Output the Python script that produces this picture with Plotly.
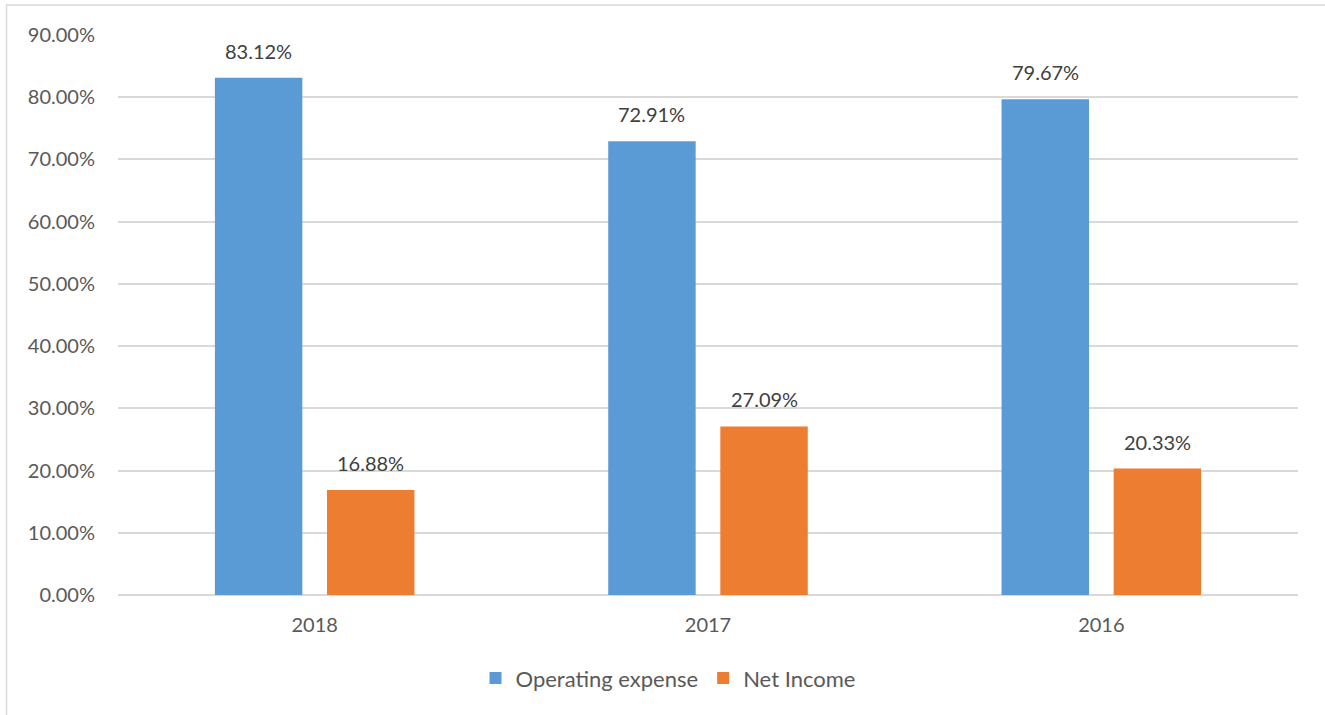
import plotly.graph_objects as go

years = ["2018", "2017", "2016"]
operating_expense = [83.12, 72.91, 79.67]
net_income = [16.88, 27.09, 20.33]
tick_vals = [0, 10, 20, 30, 40, 50, 60, 70, 80, 90]
tick_text = [f"{v:.2f}%" for v in tick_vals]

FONT = "Lato, Open Sans, sans-serif"
W, H = 1325, 715
L, R, T, B = 118, 27, 35, 120
pw, ph = W - L - R, H - T - B

BARGAP = 0.43
GROUPGAP = 0.22
# pixel offset of each bar center from category center (derived from layout params)
cat_w = pw / len(years)
slot = cat_w * (1 - BARGAP) / 2
offsets = [-slot / 2, slot / 2]

fig = go.Figure()
series = [("Operating expense", operating_expense, "#5b9bd5"),
          ("Net Income", net_income, "#ed7d31")]
for (name, vals, col), off in zip(series, offsets):
    fig.add_trace(go.Bar(
        name=name, x=years, y=vals,
        marker=dict(color=col, line=dict(width=0)),
    ))
    for i, v in enumerate(vals):
        fig.add_annotation(x=i, y=v, xref="x", yref="y", text=f"{v:.2f}%",
                           showarrow=False, xshift=off, yshift=13, yanchor="bottom",
                           font=dict(size=20, color="#404040", family=FONT))

fig.update_layout(
    width=W, height=H,
    margin=dict(l=L, r=R, t=T, b=B),
    paper_bgcolor="white", plot_bgcolor="white",
    barmode="group", bargap=BARGAP, bargroupgap=GROUPGAP,
    font=dict(family=FONT, size=20, color="#595959"),
    showlegend=True,
    legend=dict(orientation="h", x=0.5 - 40 / pw, xanchor="center", y=-0.111, yanchor="top",
                font=dict(size=22, color="#595959"), itemsizing="constant",
                traceorder="normal", itemwidth=30, tracegroupgap=0),
    xaxis=dict(type="category", categoryorder="array", categoryarray=years,
               range=[-0.5, len(years) - 0.5],
               showgrid=False, showline=False, ticks="", automargin=False,
               ticklabelstandoff=16, tickfont=dict(size=20, color="#595959")),
    yaxis=dict(range=[0, 90], tickvals=tick_vals, ticktext=tick_text, automargin=False,
               showgrid=True, gridcolor="#d9d9d9", gridwidth=1.5,
               zeroline=True, zerolinecolor="#d9d9d9", zerolinewidth=2,
               showline=False, ticks="", ticklabelstandoff=22,
               tickfont=dict(size=20, color="#595959")),
)

# chart outer border
x0 = (6.5 - L) / pw
x1 = (W + 5 - L) / pw
y1 = 1 + (T - 5) / ph
y0 = -(H + 10 - (H - B)) / ph
fig.add_shape(type="rect", xref="paper", yref="paper", x0=x0, x1=x1, y0=y0, y1=y1,
              line=dict(color="#d9d9d9", width=1.5), fillcolor="rgba(0,0,0,0)", layer="below")

fig.write_html("out.html", config={"displayModeBar": False},
               post_script="document.body.style.margin='0';")
